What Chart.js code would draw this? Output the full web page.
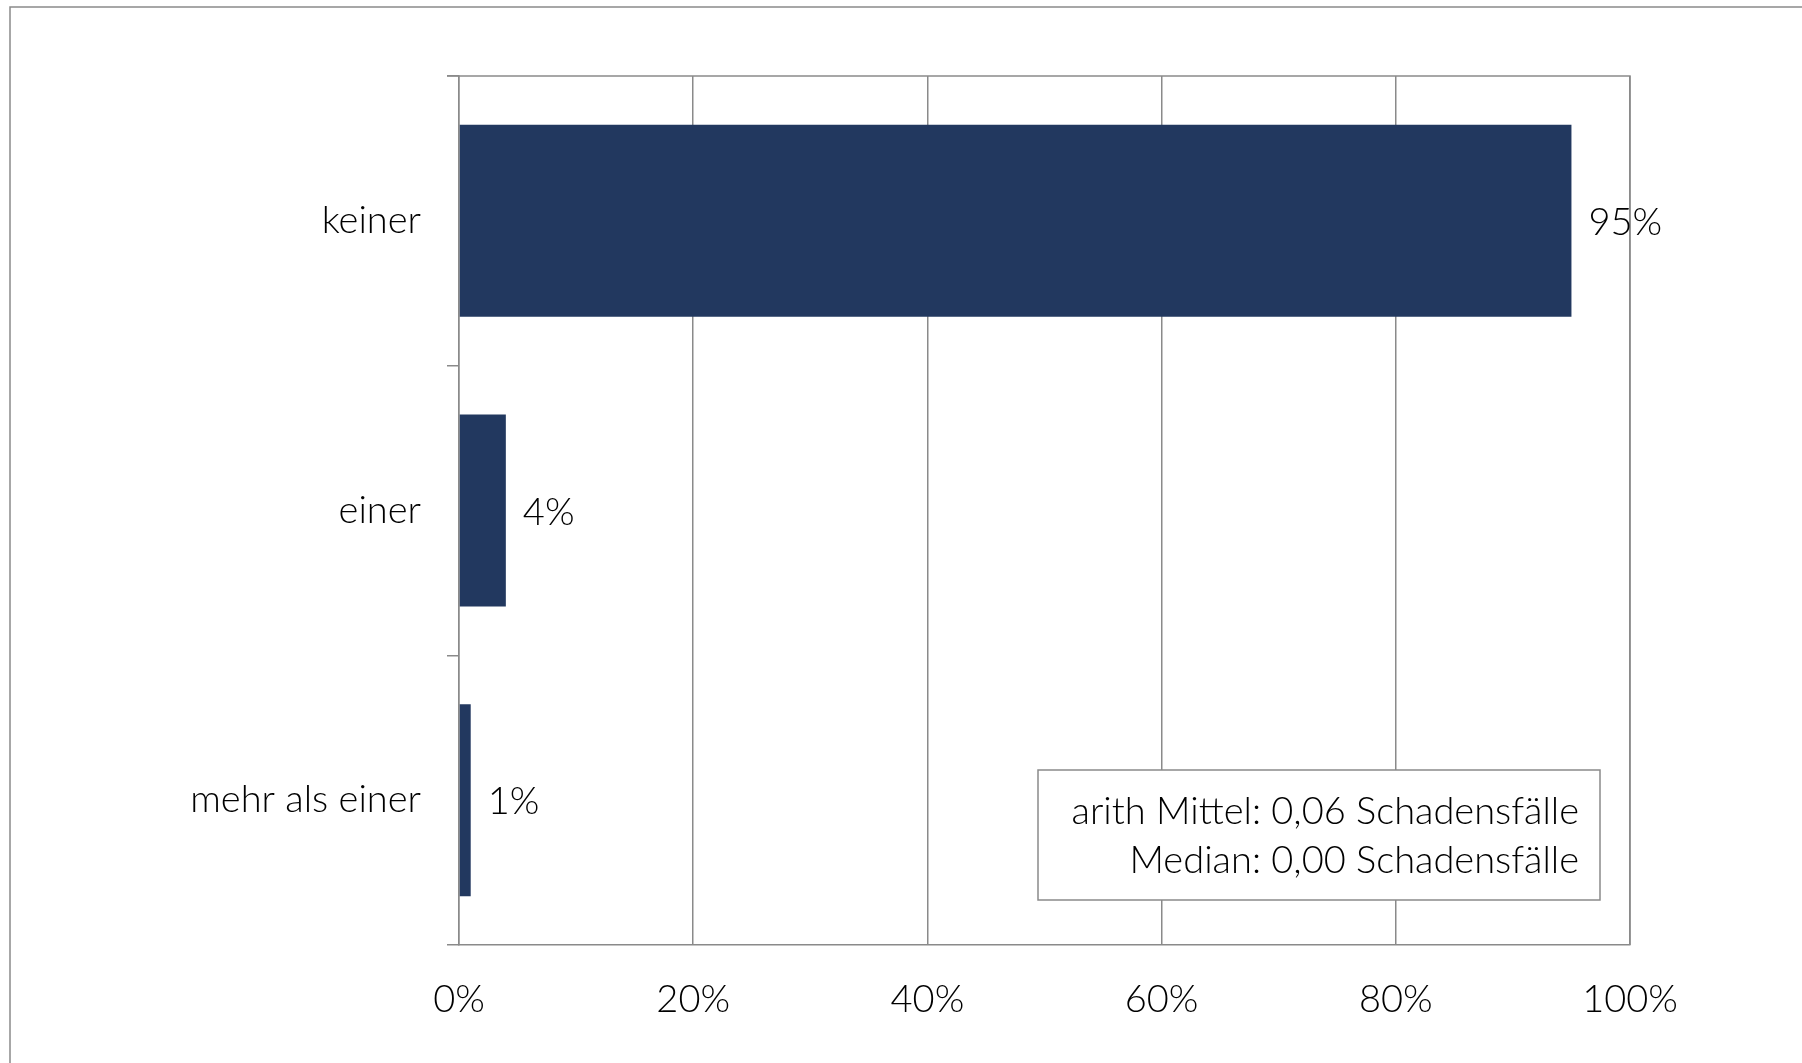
<!DOCTYPE html>
<html>
<head>
<meta charset="utf-8">
<script src="https://cdn.jsdelivr.net/npm/chart.js@4/dist/chart.umd.min.js"></script>
<style>
  html, body { margin: 0; padding: 0; background: #ffffff; }
  #wrap { position: relative; width: 1802px; height: 1063px; }
  canvas { display: block; }
</style>
</head>
<body>
<div id="wrap"><canvas id="c" width="1802" height="1063"></canvas></div>
<script>
// Anzahl Schadensfälle – Anteil der Befragten
const categories = ['keiner', 'einer', 'mehr als einer'];
const shares = [95, 4, 1];
const xTicks = [0, 20, 40, 60, 80, 100];
const statLines = ['arith Mittel: 0,06 Schadensfälle', 'Median: 0,00 Schadensfälle'];

const FONT = 'Lato, "Open Sans", sans-serif';
const FONT_SIZE = 38;
const TEXT = '#000000';
const GRID = '#8a8a8a';
const BAR = '#22385f';

// Frame around the whole figure (left and top edges visible)
const outerFrame = {
  id: 'outerFrame',
  beforeDraw(chart) {
    const ctx = chart.ctx;
    ctx.save();
    ctx.strokeStyle = GRID;
    ctx.lineWidth = 1.5;
    ctx.beginPath();
    ctx.moveTo(10, chart.height);
    ctx.lineTo(10, 7);
    ctx.lineTo(chart.width, 7);
    ctx.stroke();
    ctx.restore();
  }
};

// Border of the plot area
const plotBorder = {
  id: 'plotBorder',
  afterDatasetsDraw(chart) {
    const { ctx, chartArea: a } = chart;
    ctx.save();
    ctx.strokeStyle = GRID;
    ctx.lineWidth = 1.5;
    ctx.beginPath();
    ctx.moveTo(a.left - 12, a.top);
    ctx.lineTo(a.right, a.top);
    ctx.lineTo(a.right, a.bottom);
    ctx.stroke();
    ctx.restore();
  }
};

// Percentage labels right of each bar
const valueLabels = {
  id: 'valueLabels',
  afterDatasetsDraw(chart) {
    const ctx = chart.ctx;
    const meta = chart.getDatasetMeta(0);
    ctx.save();
    ctx.font = '300 ' + FONT_SIZE + 'px ' + FONT;
    ctx.fillStyle = TEXT;
    ctx.textAlign = 'left';
    ctx.textBaseline = 'middle';
    meta.data.forEach((bar, i) => {
      ctx.fillText(shares[i] + '%', bar.x + 17, bar.y + 2);
    });
    ctx.restore();
  }
};

// Summary box with mean and median
const statBox = {
  id: 'statBox',
  afterDraw(chart) {
    const { ctx, chartArea: a } = chart;
    const right = a.right - 30, bottom = a.bottom - 45;
    const w = 562, h = 130;
    ctx.save();
    ctx.fillStyle = '#ffffff';
    ctx.fillRect(right - w, bottom - h, w, h);
    ctx.strokeStyle = GRID;
    ctx.lineWidth = 1.5;
    ctx.strokeRect(right - w, bottom - h, w, h);
    ctx.font = '300 ' + FONT_SIZE + 'px ' + FONT;
    ctx.fillStyle = TEXT;
    ctx.textAlign = 'right';
    ctx.textBaseline = 'middle';
    ctx.fillText(statLines[0], right - 21, bottom - h + 42);
    ctx.fillText(statLines[1], right - 21, bottom - h + 91);
    ctx.restore();
  }
};

new Chart(document.getElementById('c'), {
  type: 'bar',
  data: {
    labels: categories,
    datasets: [{
      data: shares,
      backgroundColor: BAR,
      borderWidth: 0,
      categoryPercentage: 0.663,
      barPercentage: 1.0
    }]
  },
  options: {
    indexAxis: 'y',
    responsive: false,
    animation: false,
    devicePixelRatio: 1,
    layout: { padding: { left: 0, right: 172, top: 76, bottom: 0 } },
    plugins: { legend: { display: false }, tooltip: { enabled: false } },
    scales: {
      x: {
        min: 0, max: 100,
        afterBuildTicks(scale) { scale.ticks = xTicks.map(v => ({ value: v })); },
        afterFit(scale) { scale.height = 118; },
        grid: { color: GRID, lineWidth: 1.5, drawTicks: false },
        border: { display: true, color: GRID, width: 1.5 },
        ticks: {
          padding: 32,
          color: TEXT,
          font: { family: FONT, size: FONT_SIZE, weight: 300 },
          callback: v => v + '%'
        }
      },
      y: {
        afterFit(scale) { scale.width = 459; },
        grid: { color: GRID, lineWidth: 1.5, drawOnChartArea: false, drawTicks: true, tickLength: 12, offset: true },
        border: { display: true, color: GRID, width: 1.5 },
        ticks: {
          padding: 26,
          color: TEXT,
          font: { family: FONT, size: FONT_SIZE, weight: 300 }
        }
      }
    }
  },
  plugins: [outerFrame, plotBorder, valueLabels, statBox]
});
</script>
</body>
</html>
